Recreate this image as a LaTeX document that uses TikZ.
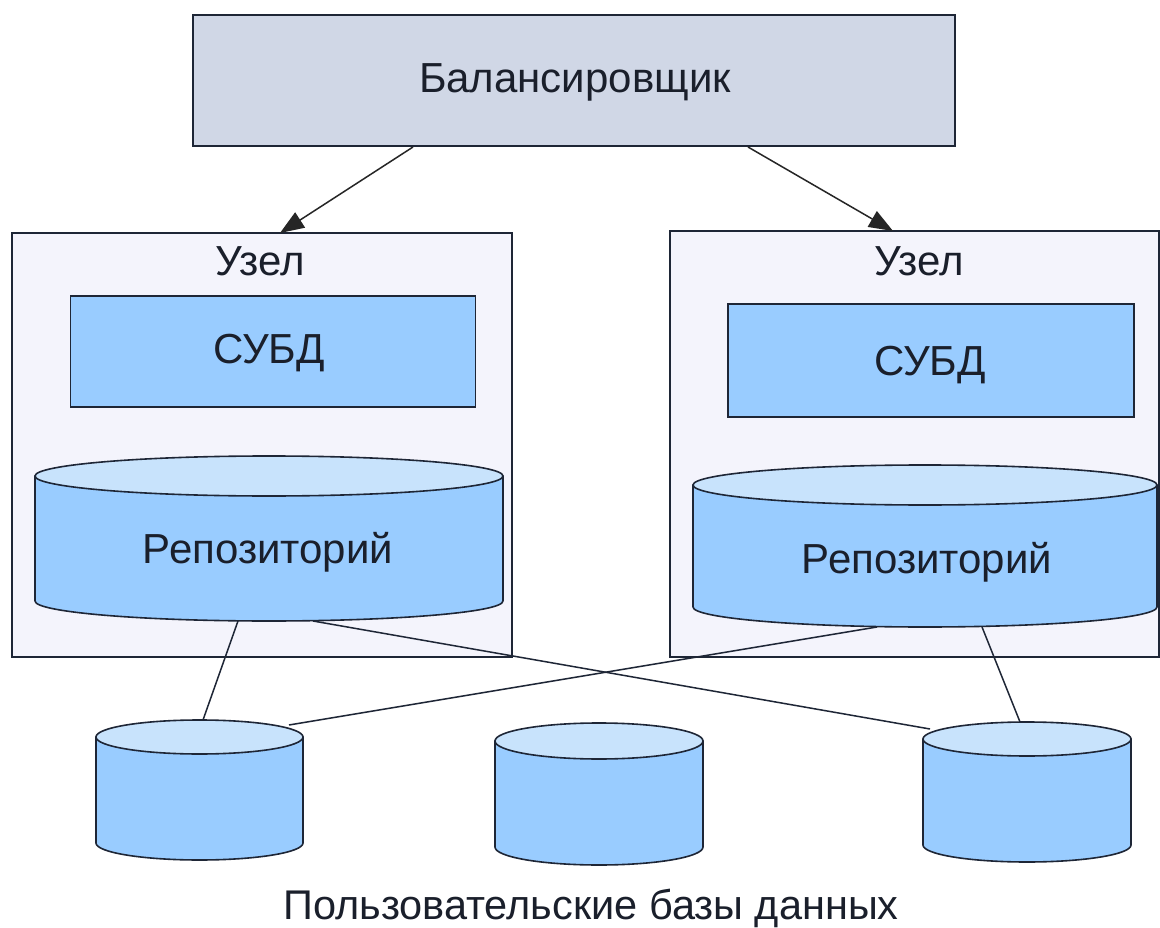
\documentclass[tikz,border=0pt]{standalone}
\usepackage{fontspec}
\setmainfont{Liberation Sans}
\usetikzlibrary{arrows.meta}

\definecolor{ink}{HTML}{1E2636}
\definecolor{balfill}{HTML}{D0D7E6}
\definecolor{nodefill}{HTML}{F4F4FC}
\definecolor{bluefill}{HTML}{99CCFF}
\definecolor{lidfill}{HTML}{C8E3FC}
\definecolor{txt}{HTML}{1A1F2B}

\tikzset{
  box/.style={draw=ink, line width=1.6pt, inner sep=0pt, outer sep=0pt},
  balbox/.style={box, fill=balfill},
  nodebox/.style={box, fill=nodefill},
  dbmsbox/.style={box, fill=bluefill},
  drumbody/.style={draw=ink, line width=1.6pt, fill=bluefill, line join=round},
  drumlid/.style={draw=ink, line width=1.6pt, fill=lidfill},
  lbl/.style={text=txt, inner sep=0pt, anchor=base, font=\fontsize{42}{50}\selectfont},
  link/.style={draw=ink, line width=1.5pt},
  feed/.style={draw=black!85, line width=1.5pt, -{Triangle[length=24pt,width=18pt]}},
}

% Drum (database cylinder): #1 name, #2 left x, #3 right x,
% #4 y of the lid centre, #5 y of the bottom rim centre, #6 vertical radius
\newcommand\DrumShape[6]{%
  \pgfmathsetmacro\drumrx{(#3-#2)/2}%
  \pgfmathsetmacro\drumcx{(#3+#2)/2}%
  \path[drumbody] (#2,#4) -- (#2,#5)
    arc[start angle=180, end angle=0, x radius=\drumrx, y radius=#6]
    -- (#3,#4) -- cycle;
  \path[drumlid] (\drumcx,#4) ellipse[x radius=\drumrx, y radius=#6];
  \coordinate (#1) at (\drumcx,#4);
}

\begin{document}
\begin{tikzpicture}[x=1pt, y=-1pt]
\useasboundingbox (0,0) rectangle (1160,928);
\fill[white] (0,0) rectangle (1160,928);

% load balancer
\node[balbox, minimum width=762pt, minimum height=131pt] (bal) at (574,80.5) {};
\node[lbl] (balText) at (575,93) {Балансировщик};

% cluster nodes
\node[nodebox, minimum width=500pt, minimum height=424pt] (nodeL) at (262,445) {};
\node[nodebox, minimum width=489pt, minimum height=426pt] (nodeR) at (914.5,444) {};
\node[lbl] (nodeLText) at (260,276) {Узел};
\node[lbl] (nodeRText) at (919,276) {Узел};

% DBMS boxes
\node[dbmsbox, minimum width=405pt, minimum height=111pt] (dbmsL) at (273,351.5) {};
\node[dbmsbox, minimum width=406pt, minimum height=113pt] (dbmsR) at (931,360.5) {};
\node[lbl] (dbmsLText) at (269,363) {СУБД};
\node[lbl] (dbmsRText) at (930,375) {СУБД};

% repositories
\DrumShape{repoL}{35}{503}{476}{601}{20}
\DrumShape{repoR}{693}{1157}{485}{607}{20}
\node[lbl] (repoLText) at (268,563) {Репозиторий};
\node[lbl] (repoRText) at (927,573) {Репозиторий};

% balancer feeds both nodes
\coordinate (balL) at (413,147);
\coordinate (balR) at (748,147);
\coordinate (nodeLin) at (280,233);
\coordinate (nodeRin) at (893,231);
\draw[feed] (balL) -- (nodeLin);
\draw[feed] (balR) -- (nodeRin);

% user databases
\DrumShape{db1}{96}{303}{737}{843}{17}
\DrumShape{db2}{495}{703}{741}{847}{18}
\DrumShape{db3}{923}{1131}{739}{845}{17}

% links from repositories to user databases
\coordinate (repoLa) at (238,621);
\coordinate (repoLb) at (313,621);
\coordinate (repoRa) at (877,627);
\coordinate (repoRb) at (982,627);
\coordinate (db1a) at (203,720);
\coordinate (db1b) at (289,725);
\coordinate (db3a) at (930,729);
\coordinate (db3b) at (1020,722);
\draw[link] (repoLa) -- (db1a);
\draw[link] (repoLb) -- (db3a);
\draw[link] (repoRa) -- (db1b);
\draw[link] (repoRb) -- (db3b);

\node[lbl, font=\fontsize{41.5}{50}\selectfont] (caption) at (591,919) {Пользовательские базы данных};
\end{tikzpicture}
\end{document}
